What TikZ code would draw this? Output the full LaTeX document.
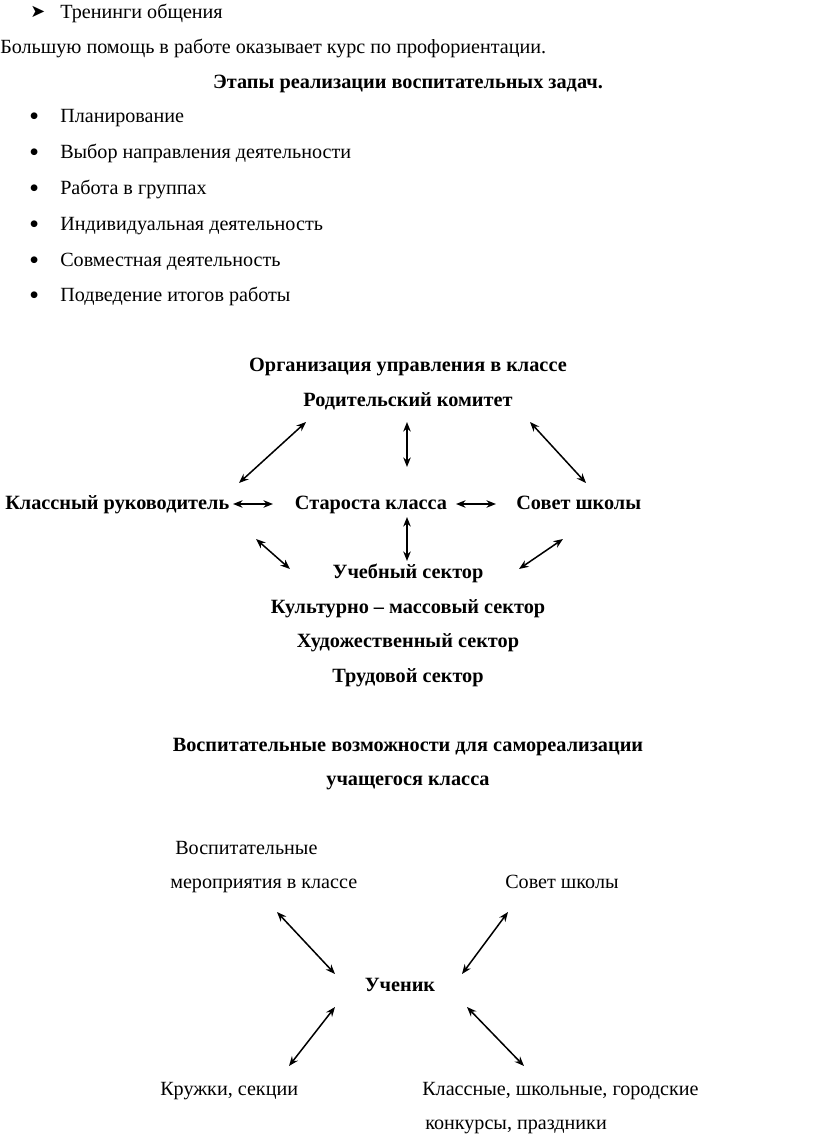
\documentclass[tikz,border=0pt]{standalone}
\usepackage{fontspec}
\usetikzlibrary{arrows.meta}
\setmainfont{Liberation Serif}
\newfontfamily\symbfont{DejaVu Sans}
\tikzset{
  txt/.style={anchor=base west, inner sep=0pt},
  ctr/.style={anchor=base, inner sep=0pt, font=\fontsize{14.8}{16}\selectfont\bfseries},
  dbl/.style={{Stealth[length=7pt,width=5.5pt]}-{Stealth[length=7pt,width=5.5pt]}, line width=1.1pt}
}
\begin{document}
\begin{tikzpicture}[x=0.73pt,y=-0.73pt,font=\fontsize{14.7}{16}\selectfont]
  \useasboundingbox (0,0) rectangle (816,1147);
  % the list at the top
  \node[txt] (mark) at (30,17) {\symbfont\fontsize{13}{14}\selectfont ➤};
  \node[txt] (trn) at (60,18) {Тренинги общения};
  \node[txt] (help) at (0,53) {Большую помощь в работе оказывает курс по профориентации.};
  \node[ctr] (stages) at (408,88) {Этапы реализации воспитательных задач.};
  \foreach \t [count=\i] in {Планирование, Выбор направления деятельности,
      Работа в группах, Индивидуальная деятельность,
      Совместная деятельность, Подведение итогов работы} {
    \node[txt] (b\i) at (30,{83+35.8*\i}) {\symbfont\fontsize{6.4}{8}\selectfont ●};
    \node[txt] (s\i) at (60,{87+35.8*\i}) {\t};
  }
  % organisation of the class
  \node[ctr] (org) at (408,371) {Организация управления в классе};
  \node[ctr] (par) at (408,406) {Родительский комитет};
  \node[ctr,anchor=base west] (lead) at (5,509) {Классный руководитель};
  \node[ctr] (head) at (371,509) {Староста класса};
  \node[ctr,anchor=base west] (sov) at (516,509) {Совет школы};
  \node[ctr] (sec1) at (408,578) {Учебный сектор};
  \node[ctr] (sec2) at (408,613) {Культурно – массовый сектор};
  \node[ctr] (sec3) at (408,647) {Художественный сектор};
  \node[ctr] (sec4) at (408,682) {Трудовой сектор};
  % ends of the arrows
  \coordinate (pl1) at (306,422); \coordinate (pl2) at (239,483);
  \coordinate (pm1) at (407,422); \coordinate (pm2) at (407,467);
  \coordinate (pr1) at (530,422); \coordinate (pr2) at (586,483);
  \coordinate (hl1) at (233,504); \coordinate (hl2) at (273,504);
  \coordinate (hr1) at (456,504); \coordinate (hr2) at (496,504);
  \coordinate (sm1) at (407,517); \coordinate (sm2) at (407,561);
  \coordinate (sl1) at (256,539); \coordinate (sl2) at (290,569);
  \coordinate (sr1) at (519,569); \coordinate (sr2) at (563,539);
  \foreach \a in {pl,pm,pr,hl,hr,sm,sl,sr}
    \draw[dbl] (\a1) -- (\a2);
  % self-realisation of the pupil
  \node[ctr] (vos1) at (408,751) {Воспитательные возможности для самореализации};
  \node[ctr] (vos2) at (408,785) {учащегося класса};
  \node[txt] (ev1) at (175,854) {Воспитательные};
  \node[txt] (ev2) at (170,888) {мероприятия в классе};
  \node[txt] (sch) at (505,888) {Совет школы};
  \node[ctr] (pup) at (400,991) {Ученик};
  \node[txt] (clb) at (160,1095) {Кружки, секции};
  \node[txt] (cmp1) at (422,1095) {Классные, школьные, городские};
  \node[txt] (cmp2) at (425,1129) {конкурсы, праздники};
  \coordinate (ua1) at (277,912); \coordinate (ua2) at (335,974);
  \coordinate (ub1) at (508,912); \coordinate (ub2) at (462,974);
  \coordinate (uc1) at (335,1007); \coordinate (uc2) at (289,1066);
  \coordinate (ud1) at (467,1007); \coordinate (ud2) at (524,1066);
  \foreach \a in {ua,ub,uc,ud}
    \draw[dbl] (\a1) -- (\a2);
\end{tikzpicture}
\end{document}
